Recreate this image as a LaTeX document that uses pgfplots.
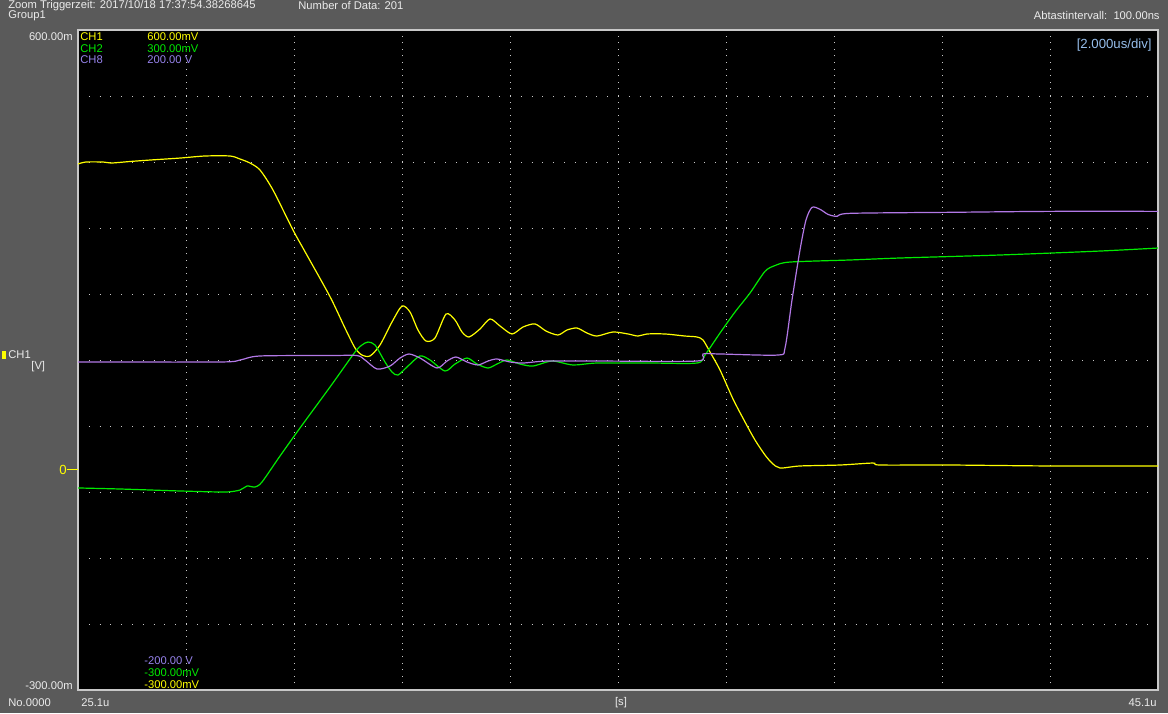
\documentclass[border=0pt]{standalone}
\usepackage{pgfplots}
\pgfplotsset{compat=1.18}
\usepackage{fontspec}
\setmainfont{Liberation Sans}
\definecolor{bggray}{RGB}{90,90,90}
\definecolor{framegray}{RGB}{200,200,200}
\definecolor{dotgray}{RGB}{200,200,200}
\definecolor{ych}{RGB}{255,255,0}
\definecolor{gch}{RGB}{0,235,0}
\definecolor{pch}{RGB}{178,120,230}
\definecolor{ptext}{RGB}{150,130,235}
\definecolor{btext}{RGB}{150,190,235}
\definecolor{wtext}{RGB}{235,235,235}
\begin{document}
\begin{tikzpicture}
\useasboundingbox (-39pt,-11.5pt) rectangle (545pt,345pt);
\fill[bggray] (-39pt,-11.5pt) rectangle (545pt,345pt);
\begin{axis}[at={(0,0)},anchor=south west,
  scale only axis, width=540pt, height=330pt,
  xmin=25.1, xmax=45.1, ymin=-300, ymax=600,
  axis background/.style={fill=black},
  axis line style={draw=framegray, line width=0.6pt},
  xtick={27.1,29.1,31.1,33.1,35.1,37.1,39.1,41.1,43.1},
  ytick={-210,-120,-30,60,150,240,330,420,510},
  xticklabels={}, yticklabels={},
  major tick length=0pt,
  grid=major,
  x grid style={draw=dotgray, line width=0.5pt, dash pattern=on 0.5pt off 2.8pt},
  y grid style={draw=dotgray, line width=0.5pt, dash pattern=on 0.5pt off 4.9pt},
  clip=true]
% CH1 (yellow)
\addplot[ych, line width=0.6pt, smooth, tension=0.45] coordinates {
(25.1,417.3)(25.248,420.0)(25.563,420.0)(25.711,418.6)(26.063,420.7)(26.433,422.7)
(26.989,425.4)(27.452,428.2)(27.915,428.2)(28.1,424.1)(28.285,418.6)(28.470,409.1)
(28.711,381.8)(29.081,327.3)(29.304,297.7)(29.767,236.4)(30.044,193.6)(30.230,166.4)
(30.359,156.8)(30.507,155.5)(30.693,170.5)(30.915,201.9)(31.1,223.6)(31.248,215.5)
(31.396,190.9)(31.544,175.9)(31.711,180.0)(31.915,212.7)(32.081,204.6)(32.211,188.2)
(32.341,181.4)(32.544,192.3)(32.730,206.0)(32.915,196.4)(33.137,185.5)(33.341,195.0)
(33.563,199.2)(33.767,189.5)(33.989,184.1)(34.156,190.9)(34.341,193.6)(34.526,186.8)
(34.711,182.7)(35.007,188.2)(35.285,185.5)(35.470,182.7)(35.637,185.5)(35.970,185.5)
(36.341,182.7)(36.563,181.4)(36.674,177.3)(36.804,160.9)(36.989,136.4)(37.230,96.8)
(37.452,65.5)(37.637,40.9)(37.822,20.5)(37.952,9.5)(38.1,2.7)(38.470,5.5)(39.211,6.8)
(39.822,9.5)(39.952,6.8)(41.248,6.8)(43.1,5.5)(45.1,5.5)};
% CH2 (green)
\addplot[gch, line width=0.6pt, smooth, tension=0.45] coordinates {
(25.1,-24.5)(25.878,-25.9)(26.989,-28.6)(27.822,-30.0)(28.1,-27.3)(28.230,-21.8)
(28.378,-23.2)(28.507,-16.4)(28.841,19.1)(29.211,57.3)(29.767,113.2)(30.230,160.9)
(30.359,170.5)(30.470,174.5)(30.6,170.5)(30.785,147.3)(30.915,133.6)(31.026,129.5)
(31.211,141.8)(31.433,155.5)(31.619,150.0)(31.896,135.0)(32.081,144.5)(32.304,152.7)
(32.489,144.5)(32.693,139.1)(32.859,144.5)(33.044,150.0)(33.285,144.5)(33.526,141.8)
(33.878,148.6)(34.267,143.2)(34.711,145.9)(35.693,145.9)(36.563,145.9)(36.711,156.8)
(36.989,186.8)(37.267,215.5)(37.545,241.4)(37.822,270.9)(38.007,278.8)(38.285,283.6)
(39.396,286.4)(40.322,289.1)(42.174,293.2)(44.026,298.6)(45.1,302.7)};
% CH8 (purple)
\addplot[pch, line width=0.6pt, smooth, tension=0.45] coordinates {
(25.1,147.3)(27.730,147.3)(28.1,150.0)(28.470,155.5)(29.767,156.1)(30.267,156.1)
(30.415,150.0)(30.637,137.7)(30.878,141.8)(31.063,152.7)(31.230,158.2)(31.433,152.7)
(31.748,139.1)(31.933,148.6)(32.1,154.1)(32.304,147.3)(32.507,143.2)(32.693,148.6)
(32.859,151.4)(33.1,147.3)(33.341,145.9)(33.785,148.6)(34.767,148.6)(36.563,148.6)
(36.674,158.2)(36.989,158.2)(38.063,156.8)(38.193,166.4)(38.322,231.8)(38.470,300.0)
(38.581,340.9)(38.693,358.2)(38.841,355.5)(38.989,348.6)(39.156,345.9)(39.396,350.0)
(41.248,351.4)(43.1,352.7)(45.1,352.7)};
\end{axis}
\begin{scope}[shift={(-39pt,345pt)},x=0.5pt,y=-0.5pt,
  every node/.style={inner sep=0pt, font=\fontsize{5.6}{6.5}\selectfont}]
\node[anchor=west, wtext] at (8,6) {Zoom Triggerzeit: 2017/10/18 17:37:54.38268645};
\node[anchor=west, wtext] at (8,16) {Group1};
\node[anchor=west, wtext] at (298,6) {Number of Data: 201};
\node[anchor=east, wtext] at (1160,16) {Abtastintervall:\ \ 100.00ns};
\node[anchor=east, wtext] at (73,37) {600.00m};
\node[anchor=east, wtext] at (73,686) {-300.00m};
\node[anchor=west, ych] at (80,37) {CH1};
\node[anchor=west, ych] at (147,37) {600.00mV};
\node[anchor=west, gch] at (80,48.5) {CH2};
\node[anchor=west, gch] at (147,48.5) {300.00mV};
\node[anchor=west, ptext] at (80,60) {CH8};
\node[anchor=west, ptext] at (147,60) {200.00 V};
\node[anchor=east, btext, font=\fontsize{6.6}{7.5}\selectfont] at (1152,45) {[2.000us/div]};
\node[anchor=west, ptext] at (144,661) {-200.00 V};
\node[anchor=west, gch] at (144,673) {-300.00mV};
\node[anchor=west, ych] at (144,685) {-300.00mV};
\fill[ych] (2,351) rectangle (6,359);
\node[anchor=west, wtext] at (8,355) {CH1};
\node[anchor=west, wtext] at (31,367) {[V]};
\node[anchor=east, ych, font=\fontsize{6.6}{7.5}\selectfont] at (67,470) {0};
\draw[ych, line width=0.5pt] (67,470) -- (78,470);
\node[anchor=west, wtext] at (8,703) {No.0000};
\node[anchor=west, wtext] at (81,703) {25.1u};
\node[anchor=center, wtext] at (621,703) {[s]};
\node[anchor=east, wtext] at (1157,703) {45.1u};
\end{scope}
\end{tikzpicture}
\end{document}
